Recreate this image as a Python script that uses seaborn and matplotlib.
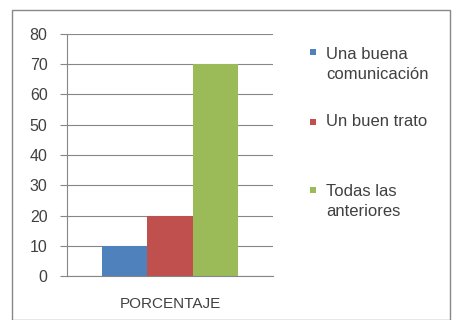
import matplotlib
matplotlib.use("Agg")
import matplotlib.pyplot as plt
import seaborn as sns
import pandas as pd
from matplotlib.patches import Rectangle

categories = ["PORCENTAJE"]
series = ["Una buena\ncomunicación", "Un buen trato", "Todas las\nanteriores"]
values = [10, 20, 70]
colors = ["#4F81BD", "#C0504D", "#9BBB59"]
yticks = [0, 10, 20, 30, 40, 50, 60, 70, 80]

df = pd.DataFrame({"cat": categories * len(series), "serie": series, "valor": values})

sns.set_style("white")
plt.rcParams['font.family'] = ['Liberation Sans', 'DejaVu Sans']

W, H = 453, 320
fig = plt.figure(figsize=(W / 100, H / 100), dpi=100)
ax = fig.add_axes([67 / W, 1 - 276 / H, (273 - 67) / W, (276 - 34) / H])

sns.barplot(data=df, x="cat", y="valor", hue="serie", palette=colors,
            width=0.665, ax=ax, legend=False, saturation=1, linewidth=0)

ax.set_ylim(0, 80)
ax.set_xlim(-0.5, 0.5)
ax.set_yticks(yticks)
ax.set_yticklabels([str(t) for t in yticks], fontsize=11.5, color="#404040")
ax.yaxis.grid(True, color="#868686", linewidth=0.8)
ax.set_axisbelow(True)
ax.set_xlabel("")
ax.set_ylabel("")
ax.set_xticks([0])
ax.set_xticklabels(categories, fontsize=11, color="#404040")
ax.tick_params(axis="x", length=0, pad=15)
ax.set_xticks([-0.5, 0.5], minor=True)
ax.tick_params(axis="x", which="minor", length=5, color="#868686")
ax.tick_params(axis="y", length=5, color="#868686", left=True, pad=9)
for s in ["top", "right"]:
    ax.spines[s].set_visible(False)
for s in ["left", "bottom"]:
    ax.spines[s].set_color("#868686")
    ax.spines[s].set_linewidth(0.8)

# legend (manual, Excel-style: marker aligned with first line)
block_centers = [64.5, 122, 201.5]
first_line = [52, 122, 190]
for lab, col, yc, y1 in zip(series, colors, block_centers, first_line):
    fig.patches.append(Rectangle((310 / W, 1 - (y1 + 3) / H), 6 / W, 6 / H,
                                 transform=fig.transFigure, facecolor=col,
                                 edgecolor="none"))
    fig.text(326 / W, 1 - yc / H, lab, fontsize=12, color="#404040",
             va="center", ha="left", linespacing=1.35)

fig.patches.append(Rectangle((12 / W, 0.0), 438 / W, 1 - 10 / H,
                             transform=fig.transFigure, fill=False,
                             edgecolor="#888888", linewidth=1))

fig.savefig("out.png", dpi=100)
